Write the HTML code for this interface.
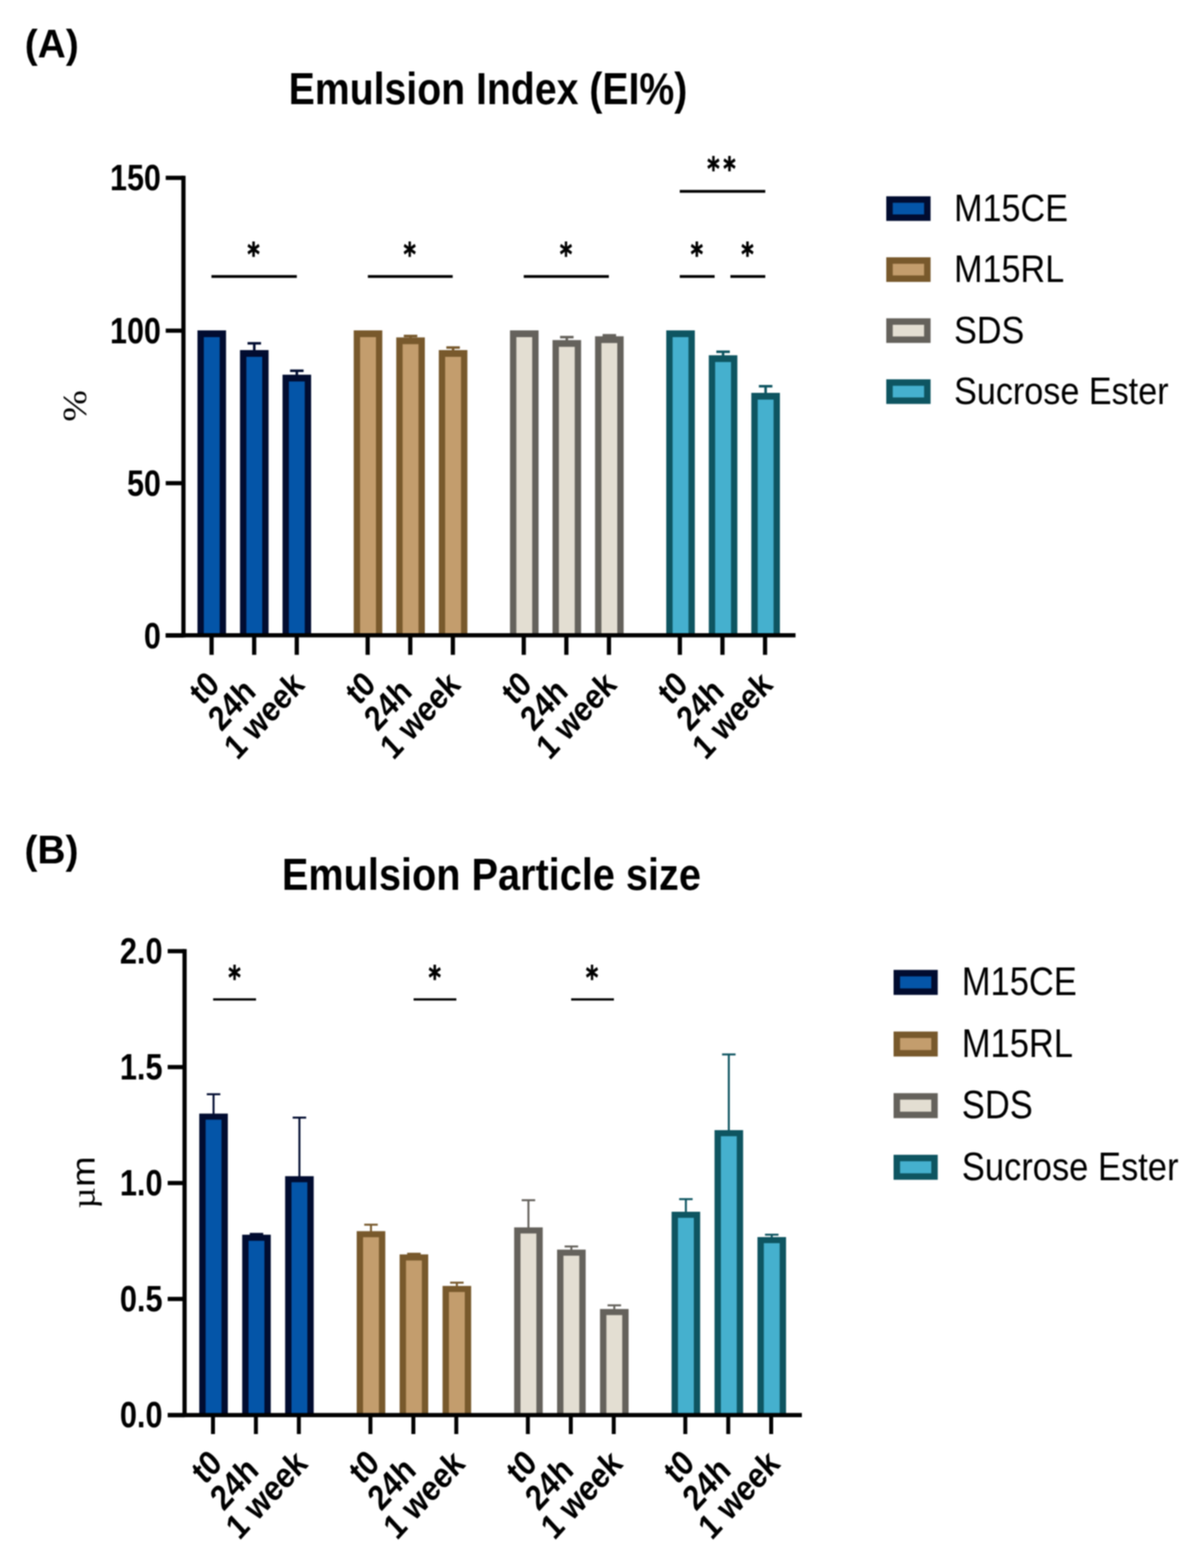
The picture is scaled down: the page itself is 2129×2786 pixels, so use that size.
<!DOCTYPE html>
<html lang="en">
<head>
<meta charset="utf-8">
<title>Emulsion Index and Emulsion Particle size</title>
<style>
html,body{margin:0;padding:0;background:#fff;}
body{width:2129px;height:2786px;overflow:hidden;}
svg{display:block;filter:blur(0.8px);}
text{fill:#000;}
</style>
</head>
<body>
<svg width="2129" height="2786" viewBox="0 0 2129 2786" role="img" aria-label="Emulsion Index and Emulsion Particle size bar charts">
<rect width="2129" height="2786" fill="#ffffff"/>
<rect x="350.90" y="587.00" width="50.80" height="541.75" fill="#010c30"/>
<rect x="362.20" y="599.00" width="28.20" height="529.75" fill="#0455a8"/>
<rect x="449.65" y="610.00" width="4.50" height="14.00" fill="#010c30"/>
<rect x="439.90" y="607.75" width="24.00" height="4.50" fill="#010c30"/>
<rect x="426.50" y="622.00" width="50.80" height="506.75" fill="#010c30"/>
<rect x="437.80" y="634.00" width="28.20" height="494.75" fill="#0455a8"/>
<rect x="525.25" y="658.75" width="4.50" height="9.00" fill="#010c30"/>
<rect x="515.50" y="656.50" width="24.00" height="4.50" fill="#010c30"/>
<rect x="502.10" y="665.75" width="50.80" height="463.00" fill="#010c30"/>
<rect x="513.40" y="677.75" width="28.20" height="451.00" fill="#0455a8"/>
<rect x="628.60" y="587.00" width="50.80" height="541.75" fill="#78592c"/>
<rect x="639.90" y="599.00" width="28.20" height="529.75" fill="#c39d6d"/>
<rect x="727.35" y="597.00" width="4.50" height="4.50" fill="#78592c"/>
<rect x="717.60" y="594.75" width="24.00" height="4.50" fill="#78592c"/>
<rect x="704.20" y="599.50" width="50.80" height="529.25" fill="#78592c"/>
<rect x="715.50" y="611.50" width="28.20" height="517.25" fill="#c39d6d"/>
<rect x="802.95" y="617.50" width="4.50" height="6.50" fill="#78592c"/>
<rect x="793.20" y="615.25" width="24.00" height="4.50" fill="#78592c"/>
<rect x="779.80" y="622.00" width="50.80" height="506.75" fill="#78592c"/>
<rect x="791.10" y="634.00" width="28.20" height="494.75" fill="#c39d6d"/>
<rect x="906.30" y="587.00" width="50.80" height="541.75" fill="#65625c"/>
<rect x="917.60" y="599.00" width="28.20" height="529.75" fill="#e3ded2"/>
<rect x="1005.05" y="599.00" width="4.50" height="7.25" fill="#65625c"/>
<rect x="995.30" y="596.75" width="24.00" height="4.50" fill="#65625c"/>
<rect x="981.90" y="604.25" width="50.80" height="524.50" fill="#65625c"/>
<rect x="993.20" y="616.25" width="28.20" height="512.50" fill="#e3ded2"/>
<rect x="1080.65" y="595.75" width="4.50" height="3.75" fill="#65625c"/>
<rect x="1070.90" y="593.50" width="24.00" height="4.50" fill="#65625c"/>
<rect x="1057.50" y="597.50" width="50.80" height="531.25" fill="#65625c"/>
<rect x="1068.80" y="609.50" width="28.20" height="519.25" fill="#e3ded2"/>
<rect x="1184.00" y="587.00" width="50.80" height="541.75" fill="#0e5561"/>
<rect x="1195.30" y="599.00" width="28.20" height="529.75" fill="#45b0ce"/>
<rect x="1282.75" y="625.00" width="4.50" height="8.25" fill="#0e5561"/>
<rect x="1273.00" y="622.75" width="24.00" height="4.50" fill="#0e5561"/>
<rect x="1259.60" y="631.25" width="50.80" height="497.50" fill="#0e5561"/>
<rect x="1270.90" y="643.25" width="28.20" height="485.50" fill="#45b0ce"/>
<rect x="1358.35" y="686.25" width="4.50" height="13.75" fill="#0e5561"/>
<rect x="1348.60" y="684.00" width="24.00" height="4.50" fill="#0e5561"/>
<rect x="1335.20" y="698.00" width="50.80" height="430.75" fill="#0e5561"/>
<rect x="1346.50" y="710.00" width="28.20" height="418.75" fill="#45b0ce"/>
<rect x="322.25" y="312.25" width="7.50" height="820.25" fill="#000"/>
<rect x="294.50" y="1125.00" width="1119.25" height="7.50" fill="#000"/>
<rect x="294.50" y="312.25" width="31.50" height="7.50" fill="#000"/>
<text transform="translate(286.00,338.30) scale(0.8470,1)" font-family="Liberation Sans, Arial, Helvetica, sans-serif" font-size="64" font-weight="bold" text-anchor="end" >150</text>
<rect x="294.50" y="583.75" width="31.50" height="7.50" fill="#000"/>
<text transform="translate(286.00,609.80) scale(0.8470,1)" font-family="Liberation Sans, Arial, Helvetica, sans-serif" font-size="64" font-weight="bold" text-anchor="end" >100</text>
<rect x="294.50" y="854.75" width="31.50" height="7.50" fill="#000"/>
<text transform="translate(286.00,880.80) scale(0.8470,1)" font-family="Liberation Sans, Arial, Helvetica, sans-serif" font-size="64" font-weight="bold" text-anchor="end" >50</text>
<rect x="294.50" y="1125.50" width="31.50" height="7.50" fill="#000"/>
<text transform="translate(286.00,1151.55) scale(0.8470,1)" font-family="Liberation Sans, Arial, Helvetica, sans-serif" font-size="64" font-weight="bold" text-anchor="end" >0</text>
<rect x="372.25" y="1128.75" width="7.50" height="34.75" fill="#000"/>
<text transform="translate(393.00,1219.50) scale(0.9200,1) rotate(-45) scale(0.9200,1)" font-family="Liberation Sans, Arial, Helvetica, sans-serif" font-size="62" font-weight="bold" text-anchor="end" >t0</text>
<rect x="447.95" y="1128.75" width="7.50" height="34.75" fill="#000"/>
<text transform="translate(457.40,1232.00) scale(0.9200,1) rotate(-45) scale(0.9200,1)" font-family="Liberation Sans, Arial, Helvetica, sans-serif" font-size="62" font-weight="bold" text-anchor="end" >24h</text>
<rect x="523.65" y="1128.75" width="7.50" height="34.75" fill="#000"/>
<text transform="translate(543.60,1219.80) scale(0.9200,1) rotate(-45) scale(0.9200,1)" font-family="Liberation Sans, Arial, Helvetica, sans-serif" font-size="62" font-weight="bold" text-anchor="end" >1 week</text>
<rect x="649.65" y="1128.75" width="7.50" height="34.75" fill="#000"/>
<text transform="translate(670.40,1219.50) scale(0.9200,1) rotate(-45) scale(0.9200,1)" font-family="Liberation Sans, Arial, Helvetica, sans-serif" font-size="62" font-weight="bold" text-anchor="end" >t0</text>
<rect x="725.35" y="1128.75" width="7.50" height="34.75" fill="#000"/>
<text transform="translate(734.80,1232.00) scale(0.9200,1) rotate(-45) scale(0.9200,1)" font-family="Liberation Sans, Arial, Helvetica, sans-serif" font-size="62" font-weight="bold" text-anchor="end" >24h</text>
<rect x="801.05" y="1128.75" width="7.50" height="34.75" fill="#000"/>
<text transform="translate(821.00,1219.80) scale(0.9200,1) rotate(-45) scale(0.9200,1)" font-family="Liberation Sans, Arial, Helvetica, sans-serif" font-size="62" font-weight="bold" text-anchor="end" >1 week</text>
<rect x="927.05" y="1128.75" width="7.50" height="34.75" fill="#000"/>
<text transform="translate(947.80,1219.50) scale(0.9200,1) rotate(-45) scale(0.9200,1)" font-family="Liberation Sans, Arial, Helvetica, sans-serif" font-size="62" font-weight="bold" text-anchor="end" >t0</text>
<rect x="1002.75" y="1128.75" width="7.50" height="34.75" fill="#000"/>
<text transform="translate(1012.20,1232.00) scale(0.9200,1) rotate(-45) scale(0.9200,1)" font-family="Liberation Sans, Arial, Helvetica, sans-serif" font-size="62" font-weight="bold" text-anchor="end" >24h</text>
<rect x="1078.45" y="1128.75" width="7.50" height="34.75" fill="#000"/>
<text transform="translate(1098.40,1219.80) scale(0.9200,1) rotate(-45) scale(0.9200,1)" font-family="Liberation Sans, Arial, Helvetica, sans-serif" font-size="62" font-weight="bold" text-anchor="end" >1 week</text>
<rect x="1204.45" y="1128.75" width="7.50" height="34.75" fill="#000"/>
<text transform="translate(1225.20,1219.50) scale(0.9200,1) rotate(-45) scale(0.9200,1)" font-family="Liberation Sans, Arial, Helvetica, sans-serif" font-size="62" font-weight="bold" text-anchor="end" >t0</text>
<rect x="1280.15" y="1128.75" width="7.50" height="34.75" fill="#000"/>
<text transform="translate(1289.60,1232.00) scale(0.9200,1) rotate(-45) scale(0.9200,1)" font-family="Liberation Sans, Arial, Helvetica, sans-serif" font-size="62" font-weight="bold" text-anchor="end" >24h</text>
<rect x="1355.85" y="1128.75" width="7.50" height="34.75" fill="#000"/>
<text transform="translate(1375.80,1219.80) scale(0.9200,1) rotate(-45) scale(0.9200,1)" font-family="Liberation Sans, Arial, Helvetica, sans-serif" font-size="62" font-weight="bold" text-anchor="end" >1 week</text>
<rect x="375.75" y="488.75" width="151.75" height="5.00" fill="#000"/>
<rect x="653.75" y="488.75" width="150.75" height="5.00" fill="#000"/>
<rect x="930.75" y="488.75" width="151.25" height="5.00" fill="#000"/>
<rect x="1208.00" y="488.75" width="62.00" height="5.00" fill="#000"/>
<rect x="1298.00" y="488.75" width="62.00" height="5.00" fill="#000"/>
<rect x="1208.00" y="337.50" width="152.00" height="5.00" fill="#000"/>
<text transform="translate(450.50,472.20) scale(0.7450,1)" font-family="DejaVu Sans, Liberation Sans, sans-serif" font-size="57" font-weight="bold" text-anchor="middle" stroke="#000" stroke-width="1" stroke-linejoin="round" vector-effect="non-scaling-stroke">*</text>
<text transform="translate(728.00,472.20) scale(0.7450,1)" font-family="DejaVu Sans, Liberation Sans, sans-serif" font-size="57" font-weight="bold" text-anchor="middle" stroke="#000" stroke-width="1" stroke-linejoin="round" vector-effect="non-scaling-stroke">*</text>
<text transform="translate(1005.75,472.20) scale(0.7450,1)" font-family="DejaVu Sans, Liberation Sans, sans-serif" font-size="57" font-weight="bold" text-anchor="middle" stroke="#000" stroke-width="1" stroke-linejoin="round" vector-effect="non-scaling-stroke">*</text>
<text transform="translate(1238.25,472.20) scale(0.7450,1)" font-family="DejaVu Sans, Liberation Sans, sans-serif" font-size="57" font-weight="bold" text-anchor="middle" stroke="#000" stroke-width="1" stroke-linejoin="round" vector-effect="non-scaling-stroke">*</text>
<text transform="translate(1328.25,472.20) scale(0.7450,1)" font-family="DejaVu Sans, Liberation Sans, sans-serif" font-size="57" font-weight="bold" text-anchor="middle" stroke="#000" stroke-width="1" stroke-linejoin="round" vector-effect="non-scaling-stroke">*</text>
<text transform="translate(1285.25,320.40) scale(0.7450,1)" font-family="DejaVu Sans, Liberation Sans, sans-serif" font-size="57" font-weight="bold" text-anchor="middle" letter-spacing="8.6" stroke="#000" stroke-width="1" stroke-linejoin="round" vector-effect="non-scaling-stroke">**</text>
<rect x="1575.00" y="348.75" width="78.75" height="43.75" fill="#010c30"/>
<rect x="1586.50" y="360.25" width="55.75" height="20.75" fill="#0455a8"/>
<text transform="translate(1695.50,392.80) scale(0.8760,1)" font-family="Liberation Sans, Arial, Helvetica, sans-serif" font-size="69.3" text-anchor="start" >M15CE</text>
<rect x="1575.00" y="457.15" width="78.75" height="43.75" fill="#78592c"/>
<rect x="1586.50" y="468.65" width="55.75" height="20.75" fill="#c39d6d"/>
<text transform="translate(1695.50,501.20) scale(0.8760,1)" font-family="Liberation Sans, Arial, Helvetica, sans-serif" font-size="69.3" text-anchor="start" >M15RL</text>
<rect x="1575.00" y="565.55" width="78.75" height="43.75" fill="#65625c"/>
<rect x="1586.50" y="577.05" width="55.75" height="20.75" fill="#e3ded2"/>
<text transform="translate(1695.50,609.60) scale(0.8760,1)" font-family="Liberation Sans, Arial, Helvetica, sans-serif" font-size="69.3" text-anchor="start" >SDS</text>
<rect x="1575.00" y="673.95" width="78.75" height="43.75" fill="#0e5561"/>
<rect x="1586.50" y="685.45" width="55.75" height="20.75" fill="#45b0ce"/>
<text transform="translate(1695.50,718.00) scale(0.8760,1)" font-family="Liberation Sans, Arial, Helvetica, sans-serif" font-size="69.3" text-anchor="start" >Sucrose Ester</text>
<rect x="377.75" y="1944.25" width="3.50" height="36.35" fill="#010c30"/>
<rect x="367.50" y="1942.50" width="24.00" height="3.50" fill="#010c30"/>
<rect x="354.10" y="1978.60" width="50.80" height="535.70" fill="#010c30"/>
<rect x="365.40" y="1989.40" width="28.20" height="524.90" fill="#0455a8"/>
<rect x="454.05" y="2192.30" width="3.50" height="3.50" fill="#010c30"/>
<rect x="443.80" y="2190.55" width="24.00" height="3.50" fill="#010c30"/>
<rect x="430.40" y="2193.80" width="50.80" height="320.50" fill="#010c30"/>
<rect x="441.70" y="2204.60" width="28.20" height="309.70" fill="#0455a8"/>
<rect x="530.35" y="1985.75" width="3.50" height="106.05" fill="#010c30"/>
<rect x="520.10" y="1984.00" width="24.00" height="3.50" fill="#010c30"/>
<rect x="506.70" y="2089.80" width="50.80" height="424.50" fill="#010c30"/>
<rect x="518.00" y="2100.60" width="28.20" height="413.70" fill="#0455a8"/>
<rect x="657.55" y="2176.00" width="3.50" height="13.50" fill="#78592c"/>
<rect x="647.30" y="2174.25" width="24.00" height="3.50" fill="#78592c"/>
<rect x="633.90" y="2187.50" width="50.80" height="326.80" fill="#78592c"/>
<rect x="645.20" y="2198.30" width="28.20" height="316.00" fill="#c39d6d"/>
<rect x="733.85" y="2227.60" width="3.50" height="3.20" fill="#78592c"/>
<rect x="723.60" y="2225.85" width="24.00" height="3.50" fill="#78592c"/>
<rect x="710.20" y="2228.80" width="50.80" height="285.50" fill="#78592c"/>
<rect x="721.50" y="2239.60" width="28.20" height="274.70" fill="#c39d6d"/>
<rect x="810.15" y="2279.00" width="3.50" height="7.80" fill="#78592c"/>
<rect x="799.90" y="2277.25" width="24.00" height="3.50" fill="#78592c"/>
<rect x="786.50" y="2284.80" width="50.80" height="229.50" fill="#78592c"/>
<rect x="797.80" y="2295.60" width="28.20" height="218.70" fill="#c39d6d"/>
<rect x="937.35" y="2132.50" width="3.50" height="50.30" fill="#65625c"/>
<rect x="927.10" y="2130.75" width="24.00" height="3.50" fill="#65625c"/>
<rect x="913.70" y="2180.80" width="50.80" height="333.50" fill="#65625c"/>
<rect x="925.00" y="2191.60" width="28.20" height="322.70" fill="#e3ded2"/>
<rect x="1013.65" y="2214.70" width="3.50" height="7.60" fill="#65625c"/>
<rect x="1003.40" y="2212.95" width="24.00" height="3.50" fill="#65625c"/>
<rect x="990.00" y="2220.30" width="50.80" height="294.00" fill="#65625c"/>
<rect x="1001.30" y="2231.10" width="28.20" height="283.20" fill="#e3ded2"/>
<rect x="1089.95" y="2319.30" width="3.50" height="8.50" fill="#65625c"/>
<rect x="1079.70" y="2317.55" width="24.00" height="3.50" fill="#65625c"/>
<rect x="1066.30" y="2325.80" width="50.80" height="188.50" fill="#65625c"/>
<rect x="1077.60" y="2336.60" width="28.20" height="177.70" fill="#e3ded2"/>
<rect x="1217.15" y="2130.60" width="3.50" height="24.40" fill="#0e5561"/>
<rect x="1206.90" y="2128.85" width="24.00" height="3.50" fill="#0e5561"/>
<rect x="1193.50" y="2153.00" width="50.80" height="361.30" fill="#0e5561"/>
<rect x="1204.80" y="2163.80" width="28.20" height="350.50" fill="#45b0ce"/>
<rect x="1293.45" y="1873.50" width="3.50" height="136.50" fill="#0e5561"/>
<rect x="1283.20" y="1871.75" width="24.00" height="3.50" fill="#0e5561"/>
<rect x="1269.80" y="2008.00" width="50.80" height="506.30" fill="#0e5561"/>
<rect x="1281.10" y="2018.80" width="28.20" height="495.50" fill="#45b0ce"/>
<rect x="1369.75" y="2193.80" width="3.50" height="6.20" fill="#0e5561"/>
<rect x="1359.50" y="2192.05" width="24.00" height="3.50" fill="#0e5561"/>
<rect x="1346.10" y="2198.00" width="50.80" height="316.30" fill="#0e5561"/>
<rect x="1357.40" y="2208.80" width="28.20" height="305.50" fill="#45b0ce"/>
<rect x="324.25" y="1686.25" width="7.50" height="831.80" fill="#000"/>
<rect x="298.00" y="2510.55" width="1127.00" height="7.50" fill="#000"/>
<rect x="298.00" y="1686.25" width="30.00" height="7.50" fill="#000"/>
<text transform="translate(289.00,1711.60) scale(0.8500,1)" font-family="Liberation Sans, Arial, Helvetica, sans-serif" font-size="64.4" font-weight="bold" text-anchor="end" >2.0</text>
<rect x="298.00" y="1892.25" width="30.00" height="7.50" fill="#000"/>
<text transform="translate(289.00,1917.60) scale(0.8500,1)" font-family="Liberation Sans, Arial, Helvetica, sans-serif" font-size="64.4" font-weight="bold" text-anchor="end" >1.5</text>
<rect x="298.00" y="2098.25" width="30.00" height="7.50" fill="#000"/>
<text transform="translate(289.00,2123.60) scale(0.8500,1)" font-family="Liberation Sans, Arial, Helvetica, sans-serif" font-size="64.4" font-weight="bold" text-anchor="end" >1.0</text>
<rect x="298.00" y="2304.25" width="30.00" height="7.50" fill="#000"/>
<text transform="translate(289.00,2329.60) scale(0.8500,1)" font-family="Liberation Sans, Arial, Helvetica, sans-serif" font-size="64.4" font-weight="bold" text-anchor="end" >0.5</text>
<rect x="298.00" y="2510.75" width="30.00" height="7.50" fill="#000"/>
<text transform="translate(289.00,2536.10) scale(0.8500,1)" font-family="Liberation Sans, Arial, Helvetica, sans-serif" font-size="64.4" font-weight="bold" text-anchor="end" >0.0</text>
<rect x="375.00" y="2514.30" width="7.00" height="33.70" fill="#000"/>
<text transform="translate(397.50,2603.30) scale(0.9200,1) rotate(-45) scale(0.9200,1)" font-family="Liberation Sans, Arial, Helvetica, sans-serif" font-size="63" font-weight="bold" text-anchor="end" >t0</text>
<rect x="451.30" y="2514.30" width="7.00" height="33.70" fill="#000"/>
<text transform="translate(462.50,2615.80) scale(0.9200,1) rotate(-45) scale(0.9200,1)" font-family="Liberation Sans, Arial, Helvetica, sans-serif" font-size="63" font-weight="bold" text-anchor="end" >24h</text>
<rect x="527.60" y="2514.30" width="7.00" height="33.70" fill="#000"/>
<text transform="translate(549.30,2603.60) scale(0.9200,1) rotate(-45) scale(0.9200,1)" font-family="Liberation Sans, Arial, Helvetica, sans-serif" font-size="63" font-weight="bold" text-anchor="end" >1 week</text>
<rect x="654.80" y="2514.30" width="7.00" height="33.70" fill="#000"/>
<text transform="translate(677.30,2603.30) scale(0.9200,1) rotate(-45) scale(0.9200,1)" font-family="Liberation Sans, Arial, Helvetica, sans-serif" font-size="63" font-weight="bold" text-anchor="end" >t0</text>
<rect x="731.10" y="2514.30" width="7.00" height="33.70" fill="#000"/>
<text transform="translate(742.30,2615.80) scale(0.9200,1) rotate(-45) scale(0.9200,1)" font-family="Liberation Sans, Arial, Helvetica, sans-serif" font-size="63" font-weight="bold" text-anchor="end" >24h</text>
<rect x="807.40" y="2514.30" width="7.00" height="33.70" fill="#000"/>
<text transform="translate(829.10,2603.60) scale(0.9200,1) rotate(-45) scale(0.9200,1)" font-family="Liberation Sans, Arial, Helvetica, sans-serif" font-size="63" font-weight="bold" text-anchor="end" >1 week</text>
<rect x="934.60" y="2514.30" width="7.00" height="33.70" fill="#000"/>
<text transform="translate(957.10,2603.30) scale(0.9200,1) rotate(-45) scale(0.9200,1)" font-family="Liberation Sans, Arial, Helvetica, sans-serif" font-size="63" font-weight="bold" text-anchor="end" >t0</text>
<rect x="1010.90" y="2514.30" width="7.00" height="33.70" fill="#000"/>
<text transform="translate(1022.10,2615.80) scale(0.9200,1) rotate(-45) scale(0.9200,1)" font-family="Liberation Sans, Arial, Helvetica, sans-serif" font-size="63" font-weight="bold" text-anchor="end" >24h</text>
<rect x="1087.20" y="2514.30" width="7.00" height="33.70" fill="#000"/>
<text transform="translate(1108.90,2603.60) scale(0.9200,1) rotate(-45) scale(0.9200,1)" font-family="Liberation Sans, Arial, Helvetica, sans-serif" font-size="63" font-weight="bold" text-anchor="end" >1 week</text>
<rect x="1214.40" y="2514.30" width="7.00" height="33.70" fill="#000"/>
<text transform="translate(1236.90,2603.30) scale(0.9200,1) rotate(-45) scale(0.9200,1)" font-family="Liberation Sans, Arial, Helvetica, sans-serif" font-size="63" font-weight="bold" text-anchor="end" >t0</text>
<rect x="1290.70" y="2514.30" width="7.00" height="33.70" fill="#000"/>
<text transform="translate(1301.90,2615.80) scale(0.9200,1) rotate(-45) scale(0.9200,1)" font-family="Liberation Sans, Arial, Helvetica, sans-serif" font-size="63" font-weight="bold" text-anchor="end" >24h</text>
<rect x="1367.00" y="2514.30" width="7.00" height="33.70" fill="#000"/>
<text transform="translate(1388.70,2603.60) scale(0.9200,1) rotate(-45) scale(0.9200,1)" font-family="Liberation Sans, Arial, Helvetica, sans-serif" font-size="63" font-weight="bold" text-anchor="end" >1 week</text>
<rect x="378.75" y="1773.75" width="76.25" height="4.00" fill="#000"/>
<rect x="735.00" y="1773.75" width="76.00" height="4.00" fill="#000"/>
<rect x="1015.00" y="1773.75" width="76.00" height="4.00" fill="#000"/>
<text transform="translate(416.75,1756.50) scale(0.7450,1)" font-family="DejaVu Sans, Liberation Sans, sans-serif" font-size="57" font-weight="bold" text-anchor="middle" stroke="#000" stroke-width="1" stroke-linejoin="round" vector-effect="non-scaling-stroke">*</text>
<text transform="translate(772.50,1756.50) scale(0.7450,1)" font-family="DejaVu Sans, Liberation Sans, sans-serif" font-size="57" font-weight="bold" text-anchor="middle" stroke="#000" stroke-width="1" stroke-linejoin="round" vector-effect="non-scaling-stroke">*</text>
<text transform="translate(1052.00,1756.50) scale(0.7450,1)" font-family="DejaVu Sans, Liberation Sans, sans-serif" font-size="57" font-weight="bold" text-anchor="middle" stroke="#000" stroke-width="1" stroke-linejoin="round" vector-effect="non-scaling-stroke">*</text>
<rect x="1588.00" y="1723.30" width="78.50" height="44.40" fill="#010c30"/>
<rect x="1599.50" y="1734.80" width="55.50" height="21.40" fill="#0455a8"/>
<text transform="translate(1709.30,1768.40) scale(0.8810,1)" font-family="Liberation Sans, Arial, Helvetica, sans-serif" font-size="69.6" text-anchor="start" >M15CE</text>
<rect x="1588.00" y="1832.80" width="78.50" height="44.40" fill="#78592c"/>
<rect x="1599.50" y="1844.30" width="55.50" height="21.40" fill="#c39d6d"/>
<text transform="translate(1709.30,1877.90) scale(0.8810,1)" font-family="Liberation Sans, Arial, Helvetica, sans-serif" font-size="69.6" text-anchor="start" >M15RL</text>
<rect x="1588.00" y="1942.30" width="78.50" height="44.40" fill="#65625c"/>
<rect x="1599.50" y="1953.80" width="55.50" height="21.40" fill="#e3ded2"/>
<text transform="translate(1709.30,1987.40) scale(0.8810,1)" font-family="Liberation Sans, Arial, Helvetica, sans-serif" font-size="69.6" text-anchor="start" >SDS</text>
<rect x="1588.00" y="2051.80" width="78.50" height="44.40" fill="#0e5561"/>
<rect x="1599.50" y="2063.30" width="55.50" height="21.40" fill="#45b0ce"/>
<text transform="translate(1709.30,2096.90) scale(0.8810,1)" font-family="Liberation Sans, Arial, Helvetica, sans-serif" font-size="69.6" text-anchor="start" >Sucrose Ester</text>
<text transform="translate(44.00,101.50) scale(0.9730,1)" font-family="Liberation Sans, Arial, Helvetica, sans-serif" font-size="71" font-weight="bold" text-anchor="start" >(A)</text>
<text transform="translate(43.50,1533.50) scale(0.9730,1)" font-family="Liberation Sans, Arial, Helvetica, sans-serif" font-size="71" font-weight="bold" text-anchor="start" >(B)</text>
<text transform="translate(513.00,184.80) scale(0.8755,1)" font-family="Liberation Sans, Arial, Helvetica, sans-serif" font-size="79.6" font-weight="bold" text-anchor="start" >Emulsion Index (EI%)</text>
<text transform="translate(501.00,1581.10) scale(0.8860,1)" font-family="Liberation Sans, Arial, Helvetica, sans-serif" font-size="79.6" font-weight="bold" text-anchor="start" >Emulsion Particle size</text>
<text transform="translate(153.00,721.30) scale(0.9000,1) rotate(-90)" font-family="Liberation Serif, Times New Roman, serif" font-size="67.4" text-anchor="middle" >%</text>
<text transform="translate(167.90,2101.00) scale(0.9000,1) rotate(-90)" font-family="Liberation Sans, Arial, Helvetica, sans-serif" font-size="65" text-anchor="middle" ><tspan font-family="Liberation Serif, Times New Roman, serif">µ</tspan><tspan dx="1">m</tspan></text>
</svg>
</body>
</html>
